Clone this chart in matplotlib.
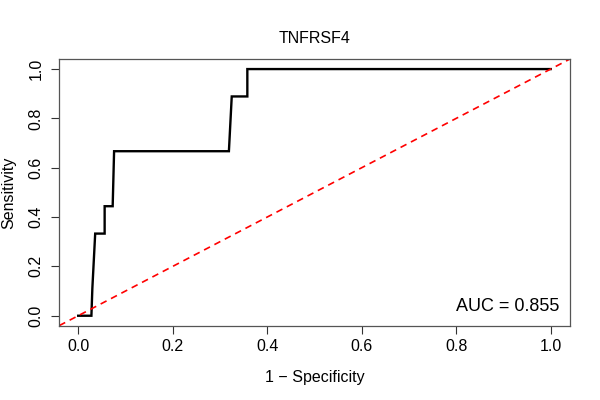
import numpy as np
import matplotlib.pyplot as plt

plt.rcParams['font.family'] = ['Liberation Sans', 'DejaVu Sans']

title = 'TNFRSF4'
auc = 0.855
# ROC curve points (1 - specificity, sensitivity)
fpr = [0.0, 0.028, 0.030, 0.033, 0.036, 0.056, 0.056, 0.073, 0.076,
       0.319, 0.322, 0.325, 0.358, 0.358, 1.0]
tpr = [0.0, 0.0, 0.111, 0.222, 0.333, 0.333, 0.444, 0.444, 0.667,
       0.667, 0.778, 0.889, 0.889, 1.0, 1.0]
ticks = [0.0, 0.2, 0.4, 0.6, 0.8, 1.0]

fig = plt.figure(figsize=(6, 4), dpi=100)
ax = fig.add_axes([0.0988, 0.186, 0.8505, 0.666])

ax.plot(fpr, tpr, color='black', lw=1.7, solid_joinstyle='miter')
ax.axline((0, 0), slope=1, color='red', lw=1.2, linestyle=(0, (4, 3)))

ax.set_xlim(-0.04, 1.04)
ax.set_ylim(-0.04, 1.04)
ax.set_xticks(ticks)
ax.set_yticks(ticks)
ax.set_xticklabels([f'{t:.1f}' for t in ticks])
ax.set_yticklabels([f'{t:.1f}' for t in ticks], rotation=90, va='center')
ax.tick_params(axis='both', length=5.5, width=0.8, labelsize=11.5, colors='#333333',
               labelcolor='black')
ax.tick_params(axis='x', pad=4.5)
ax.tick_params(axis='y', pad=6)
for s in ax.spines.values():
    s.set_color('#555555')
    s.set_linewidth(0.9)

ax.set_title(title, fontsize=11.5, pad=12)
ax.set_xlabel('1 \u2212 Specificity', fontsize=11.5, labelpad=11)
ax.set_ylabel('Sensitivity', fontsize=11.5, labelpad=9)
ax.text(0.98, 0.055, f'AUC = {auc:.3f}', transform=ax.transAxes,
        ha='right', va='baseline', fontsize=13)

fig.savefig('out.png', dpi=100)
